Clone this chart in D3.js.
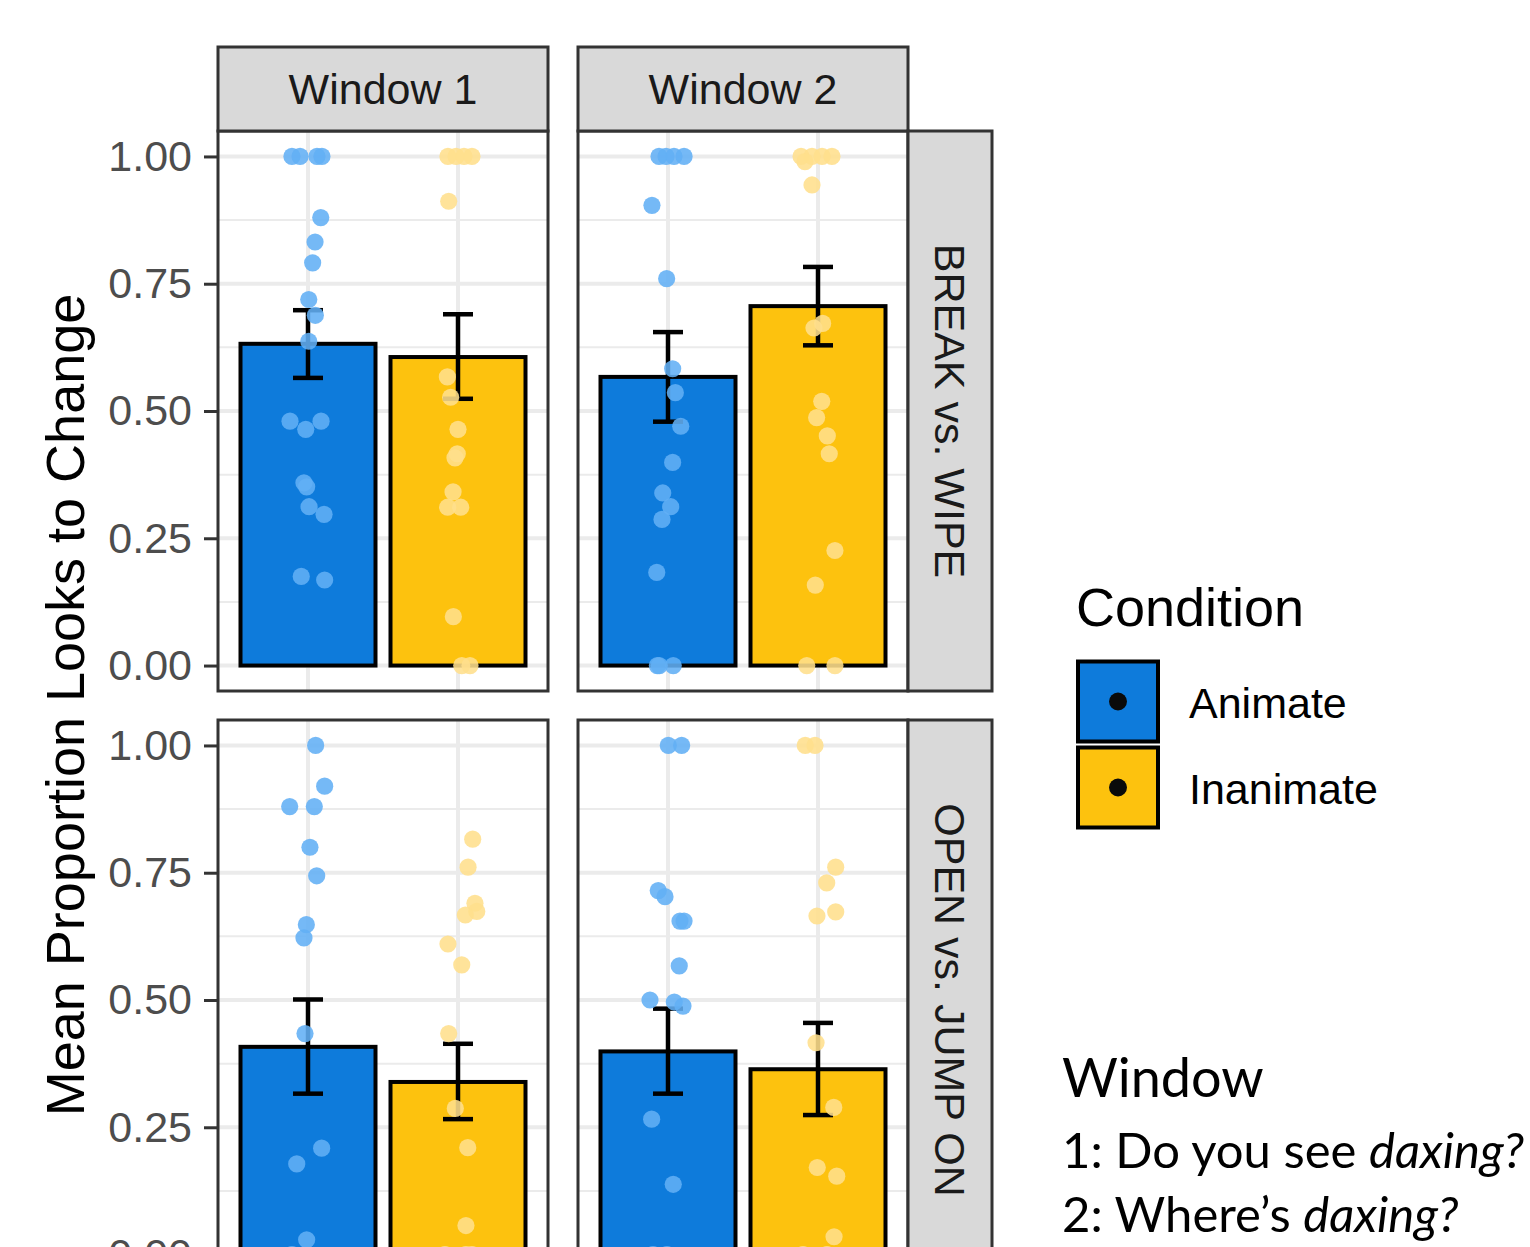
<!DOCTYPE html>
<html>
<head>
<meta charset="utf-8">
<script src="https://cdn.jsdelivr.net/npm/d3@7"></script>
<style>
  body { margin: 0; background: white; }
  svg text { font-family: "Liberation Sans", Arial, sans-serif; }
</style>
</head>
<body>
<svg id="chart"></svg>
<script>
"use strict";

// Facets and categories
const windows = ["Window 1", "Window 2"];
const contrasts = ["BREAK vs. WIPE", "OPEN vs. JUMP ON"];
const conditions = ["Animate", "Inanimate"];
const y_ticks = [0, 0.25, 0.5, 0.75, 1];
const y_minor = [0.125, 0.375, 0.625, 0.875];

// Panel order: BREAK/W1, BREAK/W2, OPEN/W1, OPEN/W2
const mean_animate   = [0.632, 0.567, 0.408, 0.399];
const mean_inanimate = [0.606, 0.706, 0.339, 0.364];
const lo_animate     = [0.565, 0.479, 0.316, 0.316];
const hi_animate     = [0.698, 0.655, 0.501, 0.483];
const lo_inanimate   = [0.524, 0.629, 0.266, 0.274];
const hi_inanimate   = [0.690, 0.783, 0.414, 0.455];

// Individual points as [jitter (category units), value]
const pts_break_w1_animate = [
    [-0.107, 1], [-0.053, 1], [0.06, 1], [0.093, 1], [0.085, 0.880], [0.047, 0.832],
    [0.031, 0.791], [0.005, 0.719], [0.049, 0.688], [0.005, 0.637], [-0.12, 0.480],
    [-0.015, 0.464], [0.087, 0.480], [-0.027, 0.359], [-0.009, 0.351], [0.007, 0.312],
    [0.107, 0.297], [-0.045, 0.175], [0.111, 0.168]];
const pts_break_w1_inanimate = [
    [-0.067, 1], [-0.013, 1], [0.04, 1], [0.093, 1], [-0.062, 0.912], [-0.071, 0.567],
    [-0.049, 0.527], [0, 0.464], [-0.005, 0.416], [-0.02, 0.408], [-0.033, 0.341],
    [-0.069, 0.311], [0.018, 0.311], [-0.031, 0.096], [0.025, 0], [0.08, 0]];
const pts_break_w2_animate = [
    [-0.06, 1], [-0.013, 1], [0.04, 1], [0.107, 1], [-0.107, 0.904], [-0.009, 0.760],
    [0.031, 0.583], [0.049, 0.536], [0.085, 0.470], [0.031, 0.399], [-0.035, 0.339],
    [0.018, 0.312], [-0.04, 0.287], [-0.075, 0.183], [-0.071, 0], [-0.058, 0], [0.035, 0]];
const pts_break_w2_inanimate = [
    [-0.113, 1], [-0.04, 1], [0.027, 1], [0.093, 1], [-0.087, 0.99], [-0.04, 0.944],
    [0.031, 0.672], [-0.027, 0.663], [0.025, 0.519], [-0.009, 0.487], [0.062, 0.451],
    [0.075, 0.416], [0.113, 0.226], [-0.018, 0.158], [-0.075, 0], [0.113, 0]];
const pts_open_w1_animate = [
    [0.051, 1], [0.111, 0.920], [-0.122, 0.880], [0.042, 0.880], [0.013, 0.800],
    [0.058, 0.744], [-0.011, 0.648], [-0.027, 0.622], [-0.02, 0.434], [0.091, 0.209],
    [-0.075, 0.178], [-0.009, 0.029], [-0.107, 0]];
const pts_open_w1_inanimate = [
    [0.098, 0.816], [0.067, 0.761], [0.113, 0.690], [0.125, 0.674], [0.049, 0.667],
    [-0.067, 0.610], [0.025, 0.569], [-0.062, 0.434], [-0.018, 0.287], [0.065, 0.210],
    [0.053, 0.057], [-0.087, 0], [0.053, 0], [0.093, 0]];
const pts_open_w2_animate = [
    [0.002, 1], [0.091, 1], [-0.065, 0.715], [-0.02, 0.703], [0.08, 0.655], [0.107, 0.655],
    [0.075, 0.567], [-0.12, 0.500], [0.042, 0.496], [0.1, 0.488], [-0.109, 0.266],
    [0.035, 0.138], [-0.1, 0], [-0.007, 0]];
const pts_open_w2_inanimate = [
    [-0.085, 1], [-0.02, 1], [0.118, 0.761], [0.058, 0.730], [0.118, 0.673], [-0.007, 0.665],
    [-0.013, 0.416], [0.105, 0.289], [-0.005, 0.171], [0.125, 0.154], [0.107, 0.035],
    [-0.1, 0], [0.06, 0]];

const points_animate = [pts_break_w1_animate, pts_break_w2_animate, pts_open_w1_animate, pts_open_w2_animate];
const points_inanimate = [pts_break_w1_inanimate, pts_break_w2_inanimate, pts_open_w1_inanimate, pts_open_w2_inanimate];

const bar_colors = {"Animate": "#0E7BDB", "Inanimate": "#FDC20E"};
const point_colors = {"Animate": "#62AFF5", "Inanimate": "#FFDF8C"};

// Layout
const WIDTH = 1530, HEIGHT = 1247;
const PANEL_W = 330, PANEL_H = 560;
const panel_left = [218, 578];
const panel_top = [131, 720];
const STRIP = 84;

const svg = d3.select("#chart")
    .attr("width", WIDTH)
    .attr("height", HEIGHT)
    .style("display", "block");

svg.append("rect")
    .attr("width", WIDTH)
    .attr("height", HEIGHT)
    .attr("fill", "white");

const x_scale = d3.scaleLinear().domain([0.4, 2.6]).range([0, PANEL_W]);
const y_scale = d3.scaleLinear().domain([-0.05, 1.05]).range([PANEL_H, 0]);

// Build the panel table from the arrays
const panels = [];
contrasts.forEach(function (contrast, row) {
    windows.forEach(function (win, col) {
        const k = row * 2 + col;
        panels.push({
            row: row, col: col,
            groups: [
                {cond: "Animate", pos: 1, mean: mean_animate[k], lo: lo_animate[k], hi: hi_animate[k], pts: points_animate[k]},
                {cond: "Inanimate", pos: 2, mean: mean_inanimate[k], lo: lo_inanimate[k], hi: hi_inanimate[k], pts: points_inanimate[k]}
            ]
        });
    });
});

panels.forEach(function (p) {
    const g = svg.append("g")
        .attr("transform", "translate(" + panel_left[p.col] + "," + panel_top[p.row] + ")");

    g.append("rect")
        .attr("width", PANEL_W)
        .attr("height", PANEL_H)
        .attr("fill", "white");

    // grid lines
    g.selectAll(".minor").data(y_minor).enter().append("line")
        .attr("x1", 0).attr("x2", PANEL_W)
        .attr("y1", d => y_scale(d)).attr("y2", d => y_scale(d))
        .attr("stroke", "#EBEBEB").attr("stroke-width", 2);
    g.selectAll(".major").data(y_ticks).enter().append("line")
        .attr("x1", 0).attr("x2", PANEL_W)
        .attr("y1", d => y_scale(d)).attr("y2", d => y_scale(d))
        .attr("stroke", "#EBEBEB").attr("stroke-width", 4);
    g.selectAll(".vmajor").data([1, 2]).enter().append("line")
        .attr("x1", d => x_scale(d)).attr("x2", d => x_scale(d))
        .attr("y1", 0).attr("y2", PANEL_H)
        .attr("stroke", "#EBEBEB").attr("stroke-width", 4);

    // bars
    g.selectAll(".bar").data(p.groups).enter().append("rect")
        .attr("x", d => x_scale(d.pos - 0.45))
        .attr("width", d => x_scale(d.pos + 0.45) - x_scale(d.pos - 0.45))
        .attr("y", d => y_scale(d.mean))
        .attr("height", d => y_scale(0) - y_scale(d.mean))
        .attr("fill", d => bar_colors[d.cond])
        .attr("stroke", "black")
        .attr("stroke-width", 4);

    // error bars
    const eb = g.selectAll(".eb").data(p.groups).enter().append("g")
        .attr("stroke", "black")
        .attr("stroke-width", 4.5);
    eb.append("line")
        .attr("x1", d => x_scale(d.pos)).attr("x2", d => x_scale(d.pos))
        .attr("y1", d => y_scale(d.lo)).attr("y2", d => y_scale(d.hi));
    eb.append("line")
        .attr("x1", d => x_scale(d.pos - 0.1)).attr("x2", d => x_scale(d.pos + 0.1))
        .attr("y1", d => y_scale(d.hi)).attr("y2", d => y_scale(d.hi));
    eb.append("line")
        .attr("x1", d => x_scale(d.pos - 0.1)).attr("x2", d => x_scale(d.pos + 0.1))
        .attr("y1", d => y_scale(d.lo)).attr("y2", d => y_scale(d.lo));

    // jittered points
    p.groups.forEach(function (grp) {
        g.selectAll(null).data(grp.pts).enter().append("circle")
            .attr("cx", d => x_scale(grp.pos + d[0]))
            .attr("cy", d => y_scale(d[1]))
            .attr("r", 8.6)
            .attr("fill", point_colors[grp.cond])
            .attr("fill-opacity", 0.88);
    });

    // panel border
    g.append("rect")
        .attr("width", PANEL_W)
        .attr("height", PANEL_H)
        .attr("fill", "none")
        .attr("stroke", "#333333")
        .attr("stroke-width", 3);

    // y axis on left column
    if (p.col === 0) {
        const axis = d3.axisLeft(y_scale)
            .tickValues(y_ticks)
            .tickFormat(d3.format(".2f"))
            .tickSize(14)
            .tickPadding(12);
        const ag = g.append("g").call(axis);
        ag.select(".domain").remove();
        ag.selectAll(".tick line").attr("stroke", "#333333").attr("stroke-width", 3);
        ag.selectAll(".tick text")
            .attr("fill", "#4D4D4D")
            .style("font-size", "43px")
            .style("font-family", "'Liberation Sans', Arial, sans-serif");
    }
});

// top strips
windows.forEach(function (win, col) {
    const s = svg.append("g")
        .attr("transform", "translate(" + panel_left[col] + "," + (panel_top[0] - STRIP) + ")");
    s.append("rect")
        .attr("width", PANEL_W).attr("height", STRIP)
        .attr("fill", "#D9D9D9").attr("stroke", "#333333").attr("stroke-width", 3);
    s.append("text")
        .attr("x", PANEL_W / 2).attr("y", STRIP / 2)
        .attr("dy", "0.36em")
        .attr("text-anchor", "middle")
        .attr("fill", "#1A1A1A")
        .style("font-size", "43px")
        .text(win);
});

// right strips
contrasts.forEach(function (con, row) {
    const s = svg.append("g")
        .attr("transform", "translate(" + (panel_left[1] + PANEL_W) + "," + panel_top[row] + ")");
    s.append("rect")
        .attr("width", STRIP).attr("height", PANEL_H)
        .attr("fill", "#D9D9D9").attr("stroke", "#333333").attr("stroke-width", 3);
    s.append("text")
        .attr("transform", "translate(" + (STRIP / 2) + "," + (PANEL_H / 2) + ") rotate(90)")
        .attr("dy", "0.36em")
        .attr("text-anchor", "middle")
        .attr("fill", "#1A1A1A")
        .style("font-size", "43px")
        .text(con);
});

// y axis title
svg.append("text")
    .attr("transform", "translate(84,705) rotate(-90)")
    .attr("text-anchor", "middle")
    .attr("fill", "black")
    .style("font-size", "54px")
    .text("Mean Proportion Looks to Change");

// legend
const legend = svg.append("g");
legend.append("text")
    .attr("x", 1076).attr("y", 626)
    .attr("fill", "black")
    .style("font-size", "54px")
    .text("Condition");
const keys = legend.selectAll(".key").data(conditions).enter().append("g")
    .attr("transform", (d, i) => "translate(1078," + (661.5 + i * 86) + ")");
keys.append("rect")
    .attr("width", 80).attr("height", 80)
    .attr("fill", d => bar_colors[d])
    .attr("stroke", "black").attr("stroke-width", 4);
keys.append("circle")
    .attr("cx", 40).attr("cy", 40).attr("r", 9)
    .attr("fill", "#0A0A0A");
keys.append("text")
    .attr("x", 111).attr("y", 56)
    .attr("fill", "black")
    .style("font-size", "43px")
    .text(d => d);

// window note
const note = svg.append("g");
note.append("text")
    .attr("x", 1062).attr("y", 1097)
    .attr("fill", "black")
    .style("font-family", "Lato, sans-serif")
    .style("font-size", "54px")
    .text("Window");
const l1 = note.append("text")
    .attr("x", 1062).attr("y", 1168)
    .attr("fill", "black")
    .style("font-family", "Lato, sans-serif")
    .style("font-size", "49px");
l1.append("tspan").text("1: Do you see ");
l1.append("tspan").style("font-style", "italic").text("daxing?");
const l2 = note.append("text")
    .attr("x", 1062).attr("y", 1232)
    .attr("fill", "black")
    .style("font-family", "Lato, sans-serif")
    .style("font-size", "49px");
l2.append("tspan").text("2: Where\u2019s ");
l2.append("tspan").style("font-style", "italic").text("daxing?");
</script>
</body>
</html>
